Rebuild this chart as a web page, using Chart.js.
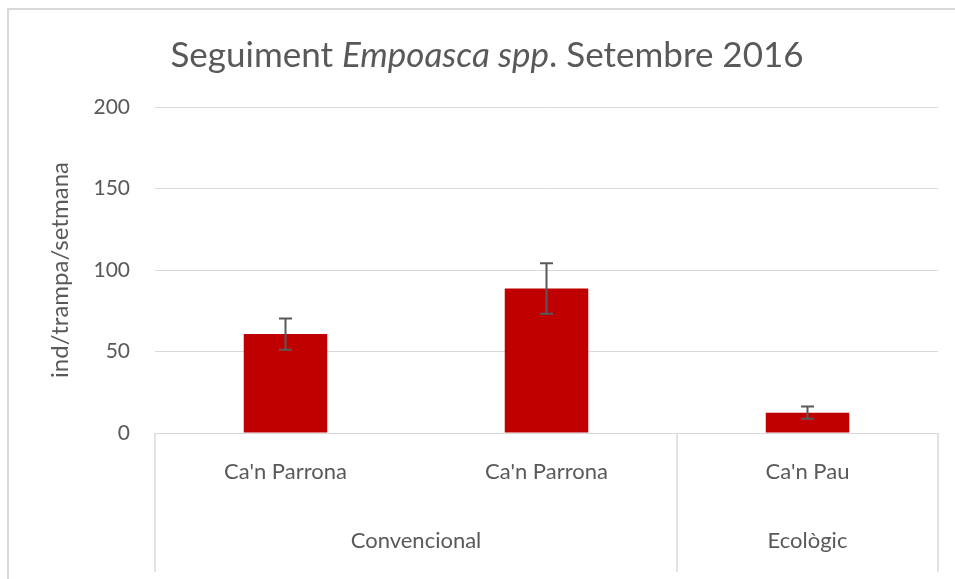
<!DOCTYPE html>
<html>
<head>
<meta charset="utf-8">
<script src="https://cdn.jsdelivr.net/npm/chart.js@4"></script>
<style>
  html, body { margin: 0; padding: 0; background: #fff; overflow: hidden; }
  #wrap { position: relative; width: 955px; height: 579px; }
  #frame { position: absolute; left: 7px; top: 8px; width: 1000px; height: 1000px;
           border-left: 2px solid #d9d9d9; border-top: 2px solid #d9d9d9; box-sizing: border-box; }
  #title { position: absolute; left: 0; top: 31px; width: 974px; text-align: center;
           font-family: Lato, sans-serif; font-size: 35px; color: #595959; line-height: 44px; }
  canvas { position: absolute; left: 0; top: 0; }
</style>
</head>
<body>
<div id="wrap">
  <div id="frame"></div>
  <canvas id="chart_empoasca" width="955" height="579"></canvas>
  <div id="title">Seguiment <i>Empoasca spp</i>. Setembre 2016</div>
</div>
<script>
var categories = ["Ca'n Parrona", "Ca'n Parrona", "Ca'n Pau"];
var groups = [
  { label: 'Convencional', from: 0, to: 1 },
  { label: 'Ecològic', from: 2, to: 2 }
];
var values = [60.7, 88.6, 12.5];
var errors = [9.6, 15.5, 3.8];
var yTicks = [0, 50, 100, 150, 200];

var textColor = '#595959';
var lineColor = '#d9d9d9';
var fontFamily = 'Lato, sans-serif';

var chart_empoasca = new Chart(document.getElementById('chart_empoasca'), {
    type: 'bar',
    data: {
        labels: categories,
        datasets: [
            {
                label: 'ind/trampa/setmana',
                data: values,
                backgroundColor: '#c00000',
                borderWidth: 0,
                barPercentage: 0.32,
                categoryPercentage: 1.0
            }
        ]
    },
    options: {
        animation: false,
        responsive: false,
        layout: {
            padding: { left: 0, right: 17, top: 107, bottom: 0 }
        },
        plugins: {
            legend: { display: false },
            title: { display: false },
            tooltip: { enabled: false }
        },
        scales: {
            x: {
                type: 'category',
                grid: { display: false, drawTicks: false },
                border: { display: false },
                ticks: {
                    color: textColor,
                    font: { family: fontFamily, size: 22 },
                    padding: 26,
                    maxRotation: 0
                },
                afterFit: function(scale) { scale.height = 146; }
            },
            y: {
                type: 'linear',
                min: 0,
                max: 200,
                afterBuildTicks: function(scale) {
                    scale.ticks = yTicks.map(function(v) { return { value: v }; });
                },
                grid: { color: lineColor, lineWidth: 1, drawTicks: false },
                border: { display: false },
                ticks: {
                    color: textColor,
                    font: { family: fontFamily, size: 21 },
                    padding: 25
                },
                title: {
                    display: true,
                    text: 'ind/trampa/setmana',
                    color: textColor,
                    font: { family: fontFamily, size: 24, weight: 'normal' },
                    padding: { top: 46, bottom: 0 }
                },
                afterFit: function(scale) { scale.width = 155; }
            }
        }
    },
    plugins: [{
        id: 'errorBarsAndGroups',
        afterDatasetsDraw: function(chart) {
            var ctx = chart.ctx;
            var x = chart.scales.x, y = chart.scales.y;
            var area = chart.chartArea;
            ctx.save();
            // error bars
            ctx.strokeStyle = '#595959';
            ctx.lineWidth = 2;
            values.forEach(function(v, i) {
                var px = x.getPixelForValue(i);
                var top = y.getPixelForValue(v + errors[i]);
                var bot = y.getPixelForValue(v - errors[i]);
                ctx.beginPath();
                ctx.moveTo(px, top); ctx.lineTo(px, bot);
                ctx.moveTo(px - 6.5, top); ctx.lineTo(px + 6.5, top);
                ctx.moveTo(px - 6.5, bot); ctx.lineTo(px + 6.5, bot);
                ctx.stroke();
            });
            // group separators
            var half = (x.getPixelForValue(1) - x.getPixelForValue(0)) / 2;
            ctx.strokeStyle = lineColor;
            ctx.lineWidth = 1.5;
            var edges = [x.getPixelForValue(0) - half];
            groups.forEach(function(g) { edges.push(x.getPixelForValue(g.to) + half); });
            edges.forEach(function(ex) {
                ctx.beginPath();
                ctx.moveTo(ex, area.bottom); ctx.lineTo(ex, area.bottom + 139);
                ctx.stroke();
            });
            // group labels
            ctx.fillStyle = textColor;
            ctx.font = '22px ' + fontFamily;
            ctx.textAlign = 'center';
            ctx.textBaseline = 'middle';
            groups.forEach(function(g) {
                var cx = (x.getPixelForValue(g.from) + x.getPixelForValue(g.to)) / 2;
                ctx.fillText(g.label, cx, area.bottom + 108);
            });
            ctx.restore();
        }
    }]
});
</script>
</body>
</html>
